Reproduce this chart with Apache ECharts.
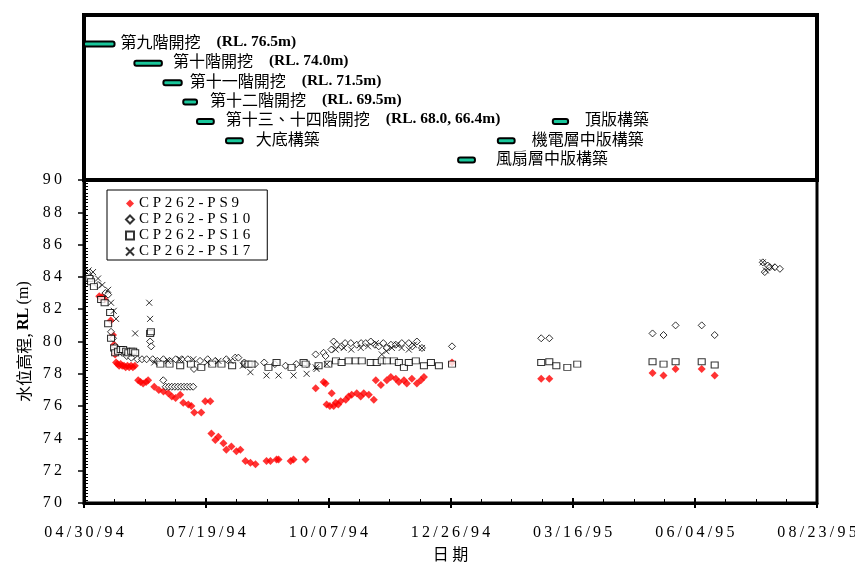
<!DOCTYPE html>
<html>
<head>
<meta charset="utf-8">
<script src="https://cdn.jsdelivr.net/npm/echarts@6/dist/echarts.min.js"></script>
<style>
  html, body { margin: 0; padding: 0; background: #fff; }
  #chart { width: 855px; height: 562px; }
</style>
</head>
<body>
<div id="chart"></div>
<script>
// Date axis: days counted from 04/30/94, one labelled tick every 80 days
const xTickLabels = ['04/30/94', '07/19/94', '10/07/94', '12/26/94', '03/16/95', '06/04/95', '08/23/95'];
const dayStep = 80;

// Construction stages: name, level note, start day, end day, row
const stageNames = ['第九階開挖', '第十階開挖', '第十一階開挖', '第十二階開挖', '第十三、十四階開挖', '大底構築', '頂版構築', '機電層中版構築', '風扇層中版構築'];
const stageRL    = ['(RL. 76.5m)', '(RL. 74.0m)', '(RL. 71.5m)', '(RL. 69.5m)', '(RL. 68.0, 66.4m)', '', '', '', ''];
const stageStart = [0, 33, 52, 65, 74, 93, 307, 271, 245];
const stageEnd   = [20, 51, 64, 74, 85, 104, 317, 282, 256];
const stageRow   = [0, 1, 2, 3, 4, 5, 4, 5, 6];

// Water level readings (day, RL m)
const ps9 = [
  [10,82.8],[11.2,82.7],[12.5,82.8],[13.5,82.6],[17.5,81.3],[19,80.4],[19.7,79.8],[20.4,79.2],[21,78.7],[22,78.6],
  [23,78.5],[24,78.6],[25,78.5],[26.2,78.5],[27.3,78.4],[28.5,78.5],[29.6,78.4],[30.8,78.5],[32,78.4],[33.3,78.5],
  [35.5,77.6],[37,77.5],[38.7,77.4],[40.7,77.5],[42,77.6],[46,77.2],[49,77.0],[52,76.9],[55.2,76.8],[57.5,76.6],
  [60,76.5],[63,76.7],[65,76.2],[68.3,76.1],[70.3,76.0],[72.2,75.6],[76.8,75.6],[79.4,76.3],[82.7,76.3],[83.4,74.3],
  [86,73.9],[88,74.1],[91.3,73.7],[93.2,73.3],[96.5,73.5],[99.8,73.2],[102.4,73.3],[105.7,72.6],[109,72.5],[112.3,72.4],
  [119.5,72.6],[122.1,72.6],[126.1,72.7],[127.4,72.7],[135.3,72.6],[137.2,72.7],[145.1,72.7],
  [151.7,77.1],[156.9,77.5],[158.2,77.4],[158.9,76.1],[161,76.0],[162.2,76.8],[163.5,76.0],[164.8,76.2],[166.5,76.1],
  [168.1,76.3],[171.4,76.4],[173.3,76.6],[175.3,76.7],[178.6,76.8],[181.2,76.6],[183.2,76.8],[186.5,76.7],[189.8,76.4],
  [191.1,77.6],[194.4,77.3],[198.3,77.6],[200.9,77.8],[204.2,77.7],[206.2,77.5],[209.5,77.6],[211.4,77.4],[214.7,77.7],
  [218,77.4],[220.6,77.6],[222.6,77.8],[241,78.7],
  [299.4,77.7],[304.7,77.7],[372.3,78.05],[379.5,77.9],[387.4,78.3],[404.5,78.3],[413,77.9]
];
const ps10 = [
  [4,84.0],[9.2,83.5],[14,83.0],[15.8,82.9],[17.7,80.6],[19,80.2],[20.5,79.7],[22.5,79.4],[25,79.3],[28,79.1],
  [31,79.0],[35,78.9],[38,78.9],[41,78.9],[43.3,80.0],[44,79.7],[45,78.9],[48,78.8],[51.9,77.6],[53.5,77.2],
  [55.5,77.2],[57.5,77.2],[59.5,77.2],[61.5,77.2],[63.5,77.2],[65.5,77.2],[67.5,77.2],[69.5,77.2],[71.5,77.2],
  [52,78.9],[56,78.8],[60,78.9],[64,78.9],[68,78.9],[72,78.3],[76,78.8],[81,78.9],[86,78.8],[93.2,78.9],[99,79.0],
  [101.1,79.0],[105,78.7],[112,78.6],[118,78.7],[125,78.6],[132,78.5],[139,78.6],[146,78.6],
  [151.7,79.2],[156.9,79.3],[158.2,79.1],[162,79.5],[163.5,80.0],[165.5,79.8],[168.7,79.7],[171,79.9],[174.7,79.9],
  [178.6,79.8],[181.5,79.9],[184.5,79.9],[187.8,80.0],[190.5,79.8],[193,79.7],[196,79.9],[198.3,79.6],[201,79.8],
  [204.2,79.8],[208.1,79.9],[212.7,79.9],[215,79.7],[218,80.0],[221.3,79.6],[241,79.7],
  [299.4,80.2],[304.7,80.2],[372.3,80.5],[379.5,80.4],[387.4,81.0],[404.5,81.0],[413,80.4],
  [444.5,84.9],[445.8,84.3],[447.8,84.7],[449.1,84.6],[452.4,84.6],[455.7,84.5]
];
const ps16 = [
  [3.5,83.9],[4.6,83.7],[6.5,83.4],[11.2,82.6],[13.5,82.4],[15.8,81.1],[17.1,81.8],[17.7,80.2],[19.7,79.6],[20.4,79.3],
  [22.3,79.4],[24,79.5],[25.6,79.5],[27.6,79.4],[29,79.3],[30.9,79.4],[32.2,79.4],[33.5,79.3],[43.3,80.5],[43.8,80.6],
  [50,78.6],[56,78.6],[63,78.5],[70,78.6],[76.8,78.4],[84,78.6],[90,78.6],[97,78.5],[105.7,78.6],[107.7,78.6],
  [109.7,78.6],[120.8,78.4],[126.1,78.7],[135.9,78.4],[143.8,78.7],[145.1,78.6],[153.6,78.5],[160,78.6],[165,78.8],
  [168.7,78.7],[173.3,78.8],[177.9,78.8],[181.9,78.8],[187.8,78.7],[191.7,78.7],[195,78.8],[198.3,78.8],[202.9,78.8],
  [206.2,78.7],[209.5,78.4],[212.7,78.7],[217.3,78.8],[222.6,78.5],[227.2,78.7],[232.4,78.5],[241,78.6],
  [299.4,78.7],[304.7,78.75],[309.3,78.5],[316.5,78.4],[323,78.6],[372.3,78.75],[379.5,78.6],[387.4,78.75],
  [404.5,78.75],[413,78.55]
];
const ps17 = [
  [3,84.4],[5.9,84.3],[9.2,83.9],[12,83.5],[15.8,83.2],[17.7,82.4],[19.5,81.9],[21,81.4],[33.5,80.5],[42.7,82.4],
  [43.3,81.4],[46,78.7],[55,78.8],[63,78.9],[71.6,78.9],[80.7,78.7],[88,78.8],[95.9,78.8],[104,78.5],[109,78.1],
  [119.5,77.9],[127.4,77.9],[137.2,77.9],[145.8,78.0],[151.7,78.4],[152.3,78.3],[159,78.6],[164.8,79.5],[170.1,79.6],
  [175,79.5],[181.2,79.6],[186,79.7],[191.1,79.9],[195,79.2],[198,79.4],[201.6,79.6],[204.9,79.8],[208,79.6],
  [212.7,79.5],[216,79.8],[221.3,79.6],[444.5,84.9],[446.5,84.4],[450.4,84.6]
];

const SERIF = '"Liberation Serif", "Times New Roman", serif';
const CJK = '"Noto Sans CJK TC", "Noto Sans CJK SC", sans-serif';
const spaced = (s, sep) => String(s).split('').join(sep);

// Space between the end of each stage bar and its caption
const labelGap = [6, 11, 8, 13, 12, 13, 17, 17, 21];

const stageData = stageNames.map((n, i) => [stageStart[i], stageEnd[i], stageRow[i], i]);

const chart = echarts.init(document.getElementById('chart'), null, { renderer: 'canvas' });

const main = { min: 0, max: dayStep * (xTickLabels.length - 1) };

chart.setOption({
  backgroundColor: '#fff',
  animation: false,
  grid: [
    { left: 84, right: 38, top: 180, bottom: 59, show: true, borderColor: '#000', borderWidth: 3, outerBoundsMode: 'none', containLabel: false },
    { left: 84, right: 38, top: 15, bottom: 382, show: true, borderColor: '#000', borderWidth: 4, outerBoundsMode: 'none', containLabel: false }
  ],
  legend: {
    orient: 'vertical',
    left: 107, top: 190,
    padding: [6, 17, 1, 18],
    itemGap: 1,
    itemWidth: 8, itemHeight: 8,
    itemTextGap: 9,
    borderColor: '#000', borderWidth: 1,
    backgroundColor: '#fff',
    formatter: name => spaced(name, ' '),
    textStyle: { fontFamily: SERIF, fontSize: 15, color: '#000', lineHeight: 14 },
    data: ['CP262-PS9', 'CP262-PS10', 'CP262-PS16', 'CP262-PS17']
  },
  xAxis: [
    {
      type: 'value', gridIndex: 0, min: main.min, max: main.max, interval: dayStep,
      name: '日 期', nameLocation: 'middle', nameGap: 42,
      nameTextStyle: { fontFamily: CJK, fontSize: 16, color: '#000' },
      axisLine: { lineStyle: { color: '#000', width: 3 } },
      axisTick: { show: true, length: 5, lineStyle: { color: '#000', width: 2 } },
      minorTick: { show: false },
      splitLine: { show: false },
      axisLabel: {
        margin: 22, color: '#000', fontFamily: SERIF, fontSize: 16,
        showMinLabel: true, showMaxLabel: true, hideOverlap: false,
        formatter: v => { const s = xTickLabels[Math.round(v / dayStep)]; return s ? spaced(s, '\u2009') : ''; }
      }
    },
    {
      type: 'value', gridIndex: 0, min: main.min, max: main.max, interval: dayStep, position: 'bottom',
      axisLine: { show: false },
      axisTick: { show: true, inside: true, length: 5, lineStyle: { color: '#000', width: 2 } },
      minorTick: { show: true, splitNumber: 4, length: 4, lineStyle: { color: '#000', width: 1 } },
      axisLabel: { show: false }, splitLine: { show: false }
    },
    { type: 'value', gridIndex: 1, min: main.min, max: main.max, show: false }
  ],
  yAxis: [
    {
      type: 'value', gridIndex: 0, min: 70, max: 90, interval: 2,
      name: '{c|水位高程,} {b|RL} {s|(m)}', nameLocation: 'middle', nameGap: 41, nameRotate: 90,
      nameTextStyle: {
        rich: {
          c: { fontFamily: CJK, fontSize: 16, color: '#000' },
          b: { fontFamily: SERIF, fontSize: 16, fontWeight: 'bold', color: '#000' },
          s: { fontFamily: SERIF, fontSize: 16, color: '#000' }
        }
      },
      axisLine: { show: true, lineStyle: { color: '#000', width: 3 } },
      axisTick: { show: true, length: 6, lineStyle: { color: '#000', width: 1.5 } },
      minorTick: { show: false },
      splitLine: { show: false },
      axisLabel: {
        margin: 22, color: '#000', fontFamily: SERIF, fontSize: 16,
        formatter: v => spaced(v, '\u2009')
      }
    },
    {
      type: 'value', gridIndex: 0, min: 70, max: 90, interval: 2, position: 'left',
      axisLine: { show: false },
      axisTick: { show: false, inside: true },
      minorTick: { show: true, splitNumber: 10, length: 4, lineStyle: { color: '#000', width: 1 } },
      axisLabel: { show: false }, splitLine: { show: false }
    },
    { type: 'value', gridIndex: 1, min: -1.5, max: 7.03, inverse: true, show: false }
  ],
  series: [
    {
      name: 'CP262-PS9', type: 'scatter', xAxisIndex: 0, yAxisIndex: 0,
      symbol: 'diamond', symbolSize: 8,
      itemStyle: { color: '#ff0000' },
      data: ps9
    },
    {
      name: 'CP262-PS10', type: 'scatter', xAxisIndex: 0, yAxisIndex: 0,
      symbol: 'diamond', symbolSize: 7,
      itemStyle: { color: '#fff', borderColor: '#000', borderWidth: 1 },
      data: ps10
    },
    {
      name: 'CP262-PS16', type: 'scatter', xAxisIndex: 0, yAxisIndex: 0,
      symbol: 'rect', symbolSize: [7, 6],
      itemStyle: { color: '#fff', borderColor: '#000', borderWidth: 1 },
      data: ps16
    },
    {
      name: 'CP262-PS17', type: 'scatter', xAxisIndex: 0, yAxisIndex: 0,
      symbol: 'path://M0,0L10,10M10,0L0,10', symbolSize: 6,
      itemStyle: { color: 'rgba(0,0,0,0)', borderColor: '#000', borderWidth: 1 },
      data: ps17
    },
    {
      name: 'stages', type: 'custom', xAxisIndex: 2, yAxisIndex: 2,
      clip: false, silent: true,
      data: stageData,
      renderItem: (params, api) => {
        const i = api.value(3);
        const s = api.coord([api.value(0), api.value(2)]);
        const e = api.coord([api.value(1), api.value(2)]);
        const rl = stageRL[i];
        const text = '{n|' + stageNames[i] + '}' + (rl ? '{r|' + rl + '}' : '');
        return {
          type: 'group',
          children: [
            {
              type: 'rect',
              shape: { x: s[0], y: s[1] - 2.5, width: e[0] - s[0], height: 5, r: 2 },
              style: { fill: '#19c79b', stroke: '#000', lineWidth: 2 }
            },
            {
              type: 'text',
              style: {
                x: e[0] + labelGap[i], y: s[1] - 2,
                text: text,
                verticalAlign: 'middle', align: 'left',
                rich: {
                  n: { fontFamily: CJK, fontSize: 16, fill: '#000' },
                  r: { fontFamily: SERIF, fontSize: 15.5, fontWeight: 'bold', fill: '#000', padding: [0, 0, 0, 16] }
                }
              }
            }
          ]
        };
      }
    }
  ]
});
</script>
</body>
</html>
